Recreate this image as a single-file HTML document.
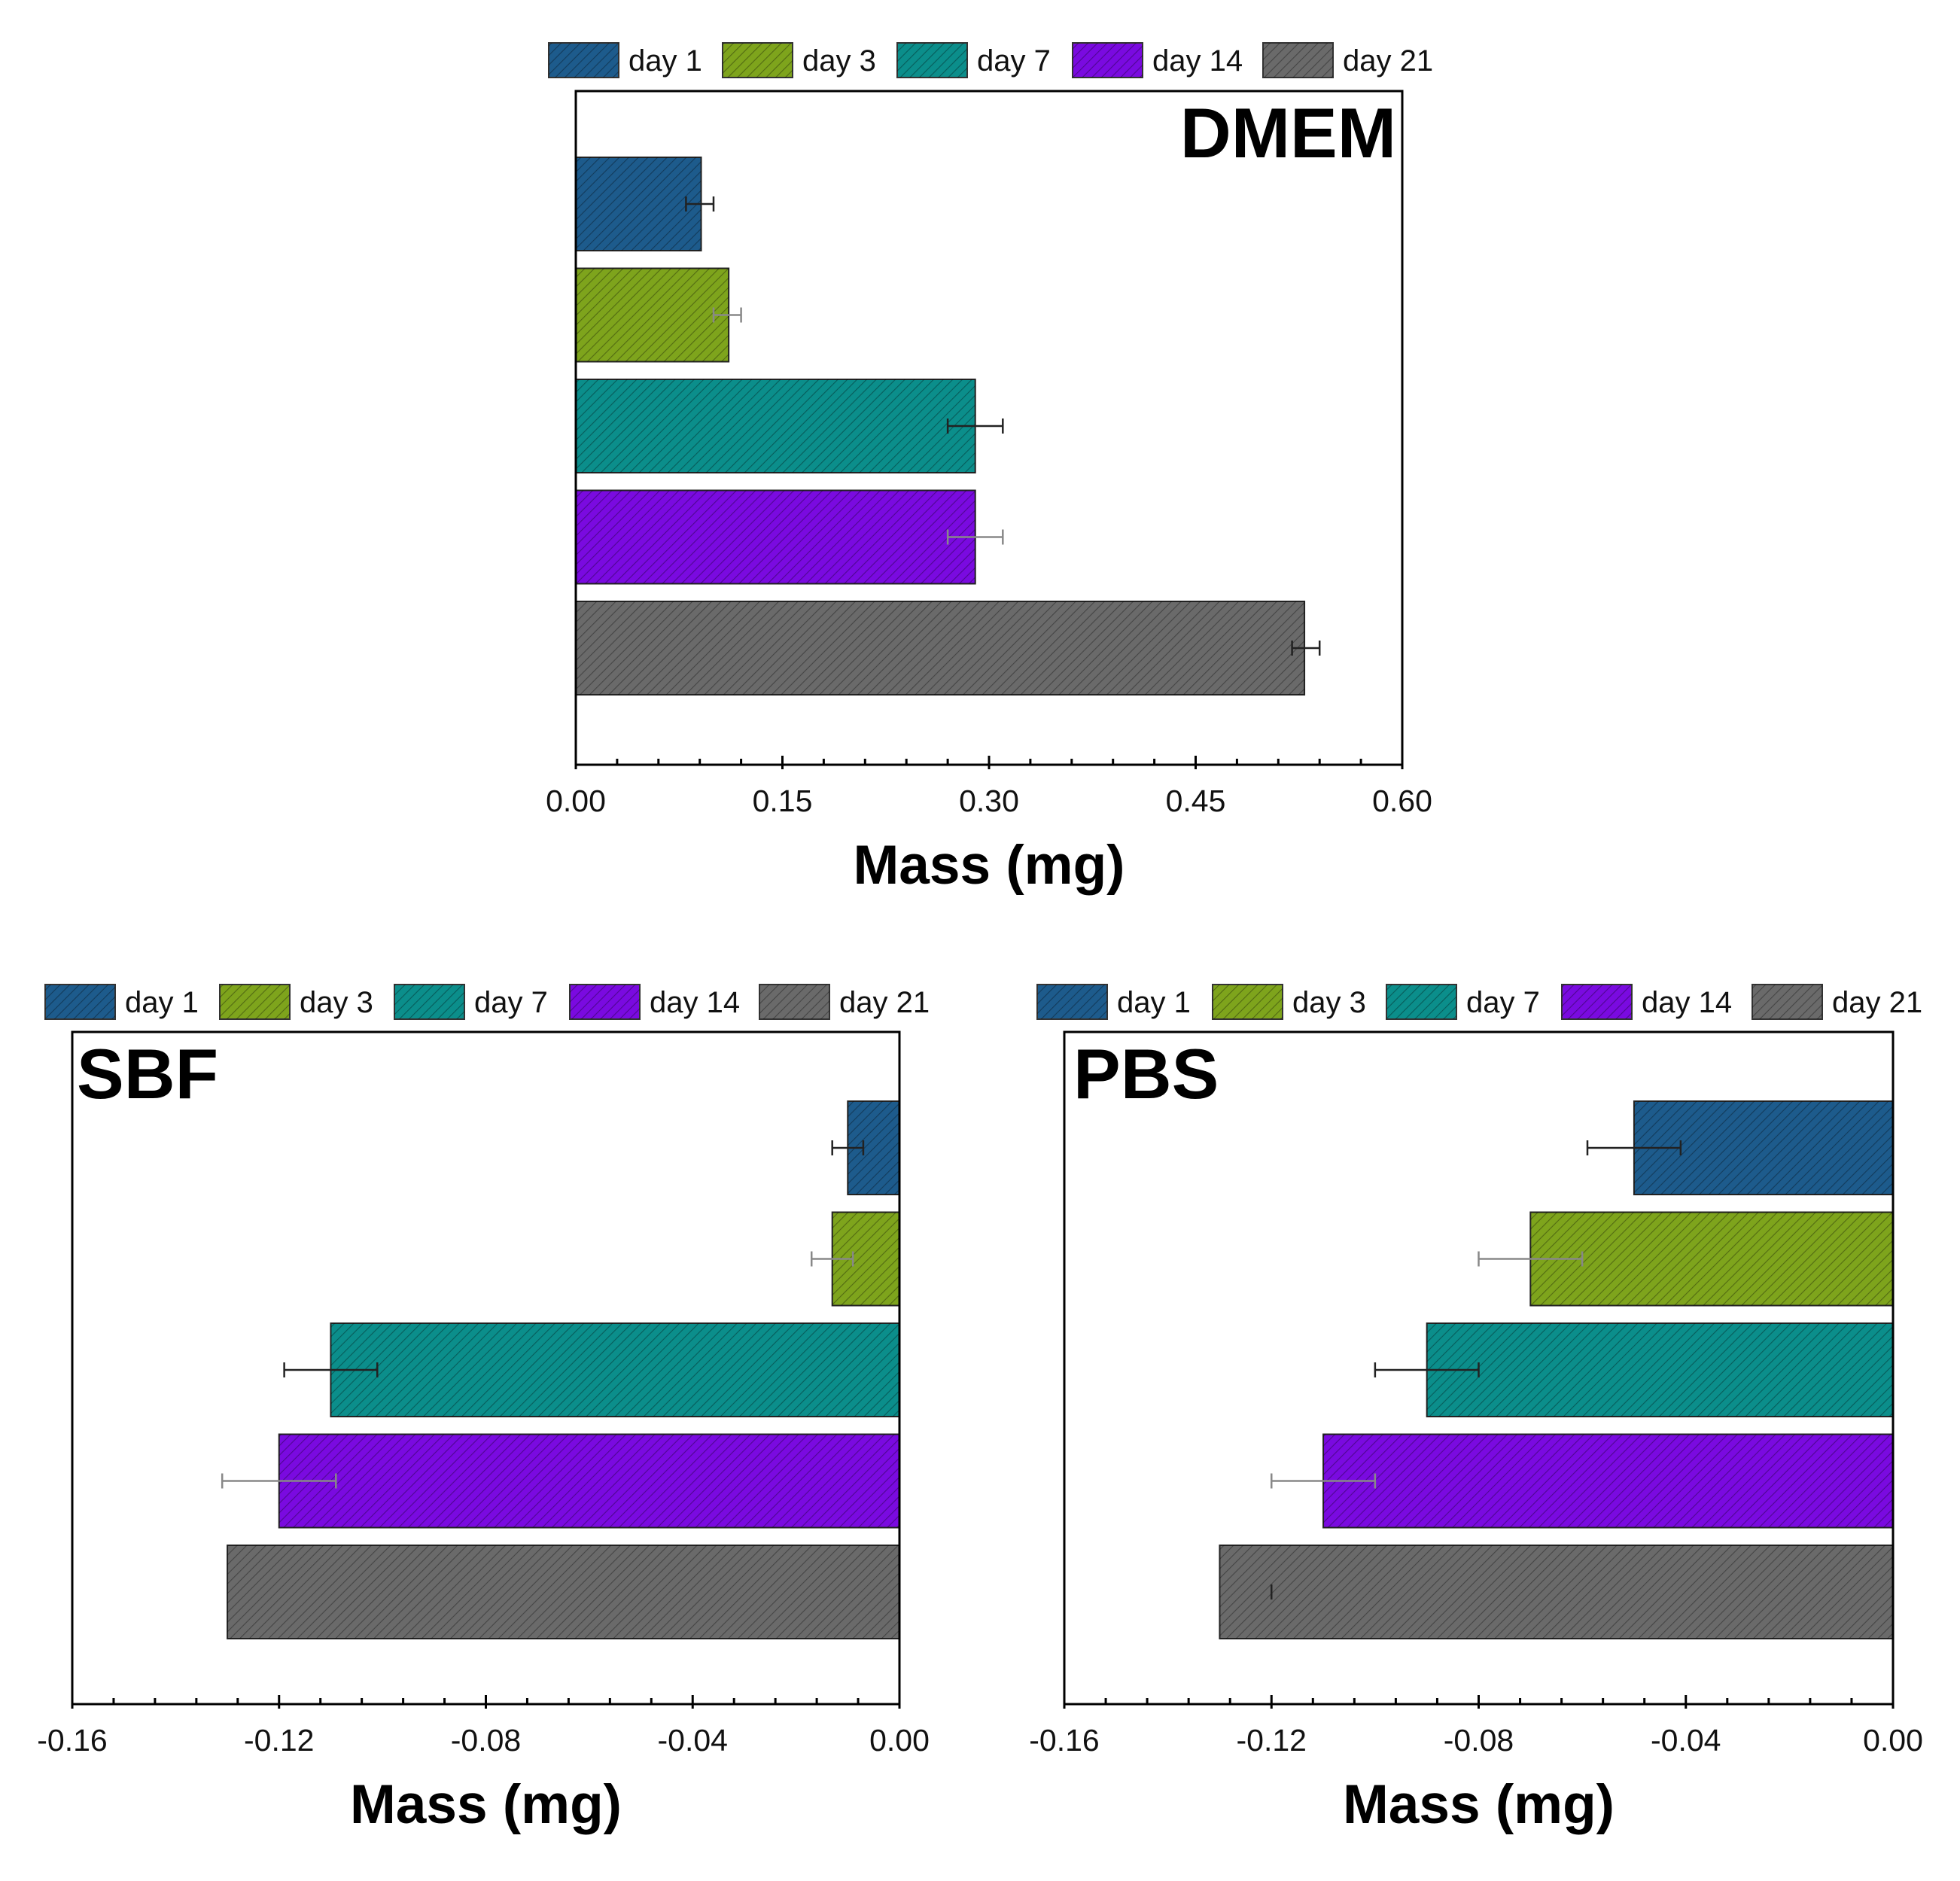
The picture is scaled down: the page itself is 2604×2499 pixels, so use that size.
<!DOCTYPE html>
<html><head><meta charset="utf-8"><style>
html,body{margin:0;padding:0;background:#fff}
svg{display:block;font-family:"Liberation Sans",Arial,sans-serif}
</style></head><body>
<svg id="c" width="2604" height="2499" viewBox="0 0 2604 2499">
<defs>
<pattern id="hatch" width="9" height="9" patternUnits="userSpaceOnUse" patternTransform="rotate(45)">
<line x1="0" y1="0" x2="0" y2="9" stroke="rgba(0,0,0,0.35)" stroke-width="2.2"/>
</pattern>
</defs>
</svg>
<script>
const days = ["day 1","day 3","day 7","day 14","day 21"];
const colors = ["#1d5b8c","#7ea41c","#0b8e8b","#7a0ae0","#6a6a6a"];
const dmemValues = [0.091, 0.111, 0.29, 0.29, 0.529];
const dmemErrLow = [0.08, 0.10, 0.27, 0.27, 0.52];
const dmemErrHigh = [0.10, 0.12, 0.31, 0.31, 0.54];
const dmemTicks = ["0.00","0.15","0.30","0.45","0.60"];
const sbfValues = [-0.010, -0.013, -0.110, -0.120, -0.130];
const sbfErrLow = [-0.013, -0.017, -0.119, -0.131, null];
const sbfErrHigh = [-0.007, -0.009, -0.101, -0.109, null];
const pbsValues = [-0.050, -0.070, -0.090, -0.110, -0.130];
const pbsErrLow = [-0.059, -0.080, -0.100, -0.120, -0.120];
const pbsErrHigh = [-0.041, -0.060, -0.080, -0.100, -0.120];
const negTicks = ["-0.16","-0.12","-0.08","-0.04","0.00"];

const svg = document.getElementById('c');
const NS = "http://www.w3.org/2000/svg";
function mk(tag, attrs, parent){const e=document.createElementNS(NS,tag);for(const k in attrs)e.setAttribute(k,attrs[k]);(parent||svg).appendChild(e);return e;}

function panel(o){
  const g = mk('g',{});
  
  
  const X = v => o.x0 + (v - o.min)/(o.max - o.min)*(o.x1 - o.x0);
  o.legX.forEach((lx,i)=>{
    const lg = mk('g',{},g);
    
    
    mk('rect',{x:lx,y:o.legY-23,width:93,height:46,fill:colors[i],stroke:'#333','stroke-width':2},lg);
    mk('rect',{x:lx,y:o.legY-23,width:93,height:46,fill:'url(#hatch)'},lg);
    const t = mk('text',{x:lx+106,y:o.legY+14,'font-size':40,fill:'#111'},lg);
    t.textContent = days[i];
  });
  const bh=124, pitch=147.5;
  o.values.forEach((v,i)=>{
    const y = o.barTop + i*pitch;
    const xa = X(Math.min(0,v)), xb = X(Math.max(0,v));
    const b = mk('g',{},g);
    
    
    mk('rect',{x:xa,y:y,width:xb-xa,height:bh,fill:colors[i],stroke:'#222','stroke-width':2},b);
    mk('rect',{x:xa,y:y,width:xb-xa,height:bh,fill:'url(#hatch)'},b);
    if(o.lo[i]!==null){
      const cy=y+bh/2, l=X(o.lo[i]), h=X(o.hi[i]);
      const e = mk('g',{stroke:i%2?'#888':'#222','stroke-width':2.5},g);
      
      
      mk('line',{x1:l,y1:cy,x2:h,y2:cy},e);
      mk('line',{x1:l,y1:cy-10,x2:l,y2:cy+10},e);
      mk('line',{x1:h,y1:cy-10,x2:h,y2:cy+10},e);
    }
  });
  const f = mk('rect',{x:o.x0,y:o.y0,width:o.x1-o.x0,height:o.y1-o.y0,fill:'none',stroke:'#000','stroke-width':3},g);
  
  
  const nMinor = 20;
  for(let k=0;k<=nMinor;k++){
    const v = o.min + (o.max-o.min)*k/nMinor;
    const x = X(v), major = k%5===0;
    mk('line',{x1:x,y1:o.y1-(major?12:8),x2:x,y2:o.y1+(major?6:0),stroke:'#000','stroke-width':3},g);
  }
  o.ticks.forEach((lab,k)=>{
    const v = o.min + (o.max-o.min)*k/(o.ticks.length-1);
    const t = mk('text',{x:X(v),y:o.y1+62,'font-size':41,'text-anchor':'middle',fill:'#111'},g);
    
    
    t.textContent = lab;
  });
  const at = mk('text',{x:(o.x0+o.x1)/2,y:o.y1+158,'font-size':73,'font-weight':'bold','text-anchor':'middle',fill:'#000'},g);
  
  
  at.textContent = 'Mass (mg)';
  const tt = mk('text',{x:o.titleX,y:o.y0+88,'font-size':94,'font-weight':'bold','text-anchor':o.titleAnchor,fill:'#000'},g);
  
  
  tt.textContent = o.title;
}

panel({name:'dmem',title:'DMEM',titleX:1855,titleAnchor:'end',x0:765,x1:1863,y0:121,y1:1016,min:0,max:0.6,
  values:dmemValues,lo:dmemErrLow,hi:dmemErrHigh,ticks:dmemTicks,barTop:209,legY:80,legX:[729,960,1192,1425,1678]});
panel({name:'sbf',title:'SBF',titleX:102,titleAnchor:'start',x0:96,x1:1195,y0:1371,y1:2264,min:-0.16,max:0,
  values:sbfValues,lo:sbfErrLow,hi:sbfErrHigh,ticks:negTicks,barTop:1463,legY:1331,legX:[60,292,524,757,1009]});
panel({name:'pbs',title:'PBS',titleX:1426,titleAnchor:'start',x0:1414,x1:2515,y0:1371,y1:2264,min:-0.16,max:0,
  values:pbsValues,lo:pbsErrLow,hi:pbsErrHigh,ticks:negTicks,barTop:1463,legY:1331,legX:[1378,1611,1842,2075,2328]});
</script>
</body></html>
